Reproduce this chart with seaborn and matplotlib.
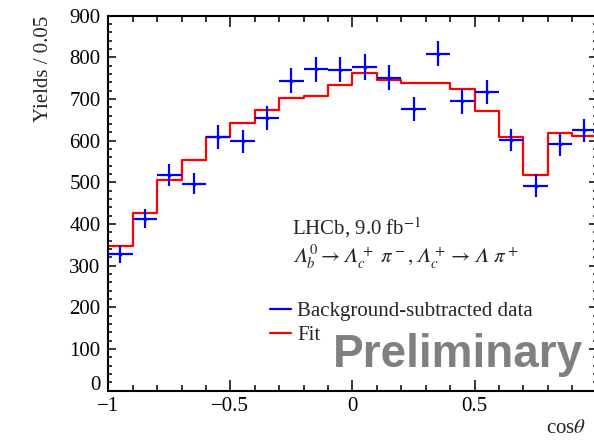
"""
plot.py - cos(theta) distribution, background-subtracted data vs fit
"""

import numpy as np
import pandas as pd
import matplotlib
matplotlib.use('Agg')
import matplotlib.pyplot as plt
import matplotlib.transforms as mtransforms
from matplotlib.lines import Line2D
from matplotlib.ticker import MultipleLocator
import seaborn as sns

# Data
bin_edges = [-1.0, -0.9, -0.8, -0.7, -0.6, -0.5, -0.4, -0.3, -0.2, -0.1, 0.0,
             0.1, 0.2, 0.3, 0.4, 0.5, 0.6, 0.7, 0.8, 0.9, 1.0]
data_yields = [328, 413, 517, 497, 609, 598, 654, 744, 771, 770,
               777, 751, 676, 809, 695, 717, 601, 492, 591, 625]
data_errors = [21, 23, 26, 25, 28, 27, 28, 30, 30, 30,
               31, 30, 28, 30, 30, 29, 27, 27, 28, 28]
fit_yields = [348, 427, 505, 554, 609, 643, 674, 702, 706, 734,
              763, 746, 739, 738, 725, 671, 609, 517, 618, 611]

xtick_values = [-1.0, -0.5, 0.0, 0.5]
xtick_labels = ["\u22121", "\u22120.5", "0", "0.5"]
ytick_values = [0, 100, 200, 300, 400, 500, 600, 700, 800, 900]

# Style
sns.set_theme(style='ticks')
plt.rcParams['font.family'] = ['Liberation Serif', 'DejaVu Serif']
plt.rcParams['mathtext.fontset'] = 'stix'
plt.rcParams['axes.unicode_minus'] = True

FS = 15
LAM = '\U0001D6EC'  # italic capital lambda

edges = np.array(bin_edges)
centers = 0.5 * (edges[:-1] + edges[1:])
half_width = 0.5 * np.diff(edges)

df_fit = pd.DataFrame({'x': edges, 'y': fit_yields + [fit_yields[-1]]})

fig = plt.figure(figsize=(5.94, 4.41), dpi=100)
ax = fig.add_axes([0.1823, 0.1145, 0.8222, 0.8499])

# Fit as a step histogram
sns.lineplot(data=df_fit, x='x', y='y', drawstyle='steps-post', color='red',
             linewidth=1.6, estimator=None, ax=ax, legend=False)

# Data points with error bars
ax.errorbar(centers, data_yields, xerr=half_width, yerr=data_errors,
            fmt='s', markersize=2, color='blue', ecolor='blue',
            elinewidth=1.6, capsize=0, zorder=3)

ax.set_xlim(-1, 1)
ax.set_ylim(0, 900)

ax.set_xticks(xtick_values)
ax.set_xticklabels(xtick_labels)
ax.set_yticks(ytick_values)
ax.xaxis.set_minor_locator(MultipleLocator(0.1))
ax.yaxis.set_minor_locator(MultipleLocator(20))

for side in ['left', 'right', 'top', 'bottom']:
    ax.spines[side].set_linewidth(1.5)
    ax.spines[side].set_color('black')

ax.tick_params(which='both', direction='in', top=True, right=True,
               colors='black', labelsize=FS, width=1.1)
ax.tick_params(axis='x', which='major', length=8, pad=5)
ax.tick_params(axis='x', which='minor', length=4.3)
ax.tick_params(axis='y', which='major', length=6, pad=5.5)
ax.tick_params(axis='y', which='minor', length=3)

# ROOT lifts the "0" label a bit off the x axis
zero_lbl = ax.get_yticklabels()[0]
zero_lbl.set_transform(zero_lbl.get_transform() +
                       mtransforms.ScaledTranslation(0, 0.08, fig.dpi_scale_trans))

ax.set_xlabel(r'cos$\theta$', fontsize=FS, loc='right')
ax.xaxis.set_label_coords(0.978, -0.077)
ax.set_ylabel('Yields / 0.05', fontsize=FS, loc='top')
ax.yaxis.set_label_coords(-0.113, 1.0)

# Annotations
ax.text(0.3755, 0.415, r'LHCb, 9.0 fb$^{-1}$', transform=ax.transAxes,
        fontsize=FS, va='baseline', ha='left')
ax.text(0.3755, 0.3394,
        rf'${LAM}_b^0 \rightarrow {LAM}_c^+\ \pi^-, {LAM}_c^+ \rightarrow {LAM}\ \pi^+$',
        transform=ax.transAxes, fontsize=FS, va='baseline', ha='left')

handles = [Line2D([], [], color='blue', linewidth=1.6),
           Line2D([], [], color='red', linewidth=1.6)]
ax.legend(handles, ['Background-subtracted data', 'Fit'],
          loc='upper left', bbox_to_anchor=(0.331, 0.238), frameon=False,
          fontsize=FS, handlelength=1.0, handletextpad=0.3,
          borderpad=0, borderaxespad=0, labelspacing=0.22)

ax.text(0.971, 0.062, 'Preliminary', transform=ax.transAxes,
        fontsize=33, fontweight='bold', color='#808080',
        family='Liberation Sans', ha='right', va='baseline')

fig.savefig('out.png', dpi=100)
plt.close(fig)
